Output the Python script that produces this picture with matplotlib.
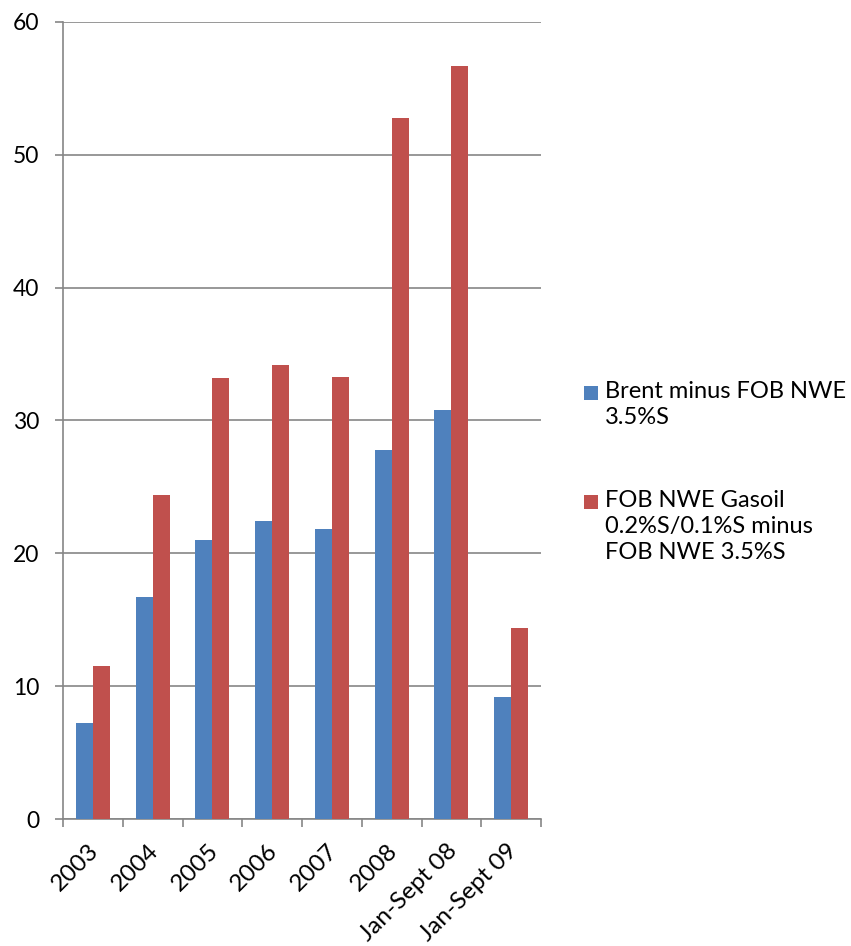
import matplotlib
matplotlib.use("Agg")
import matplotlib.pyplot as plt
import matplotlib.transforms as mtransforms
import numpy as np
from matplotlib.patches import Rectangle

categories = ["2003", "2004", "2005", "2006", "2007", "2008", "Jan-Sept 08", "Jan-Sept 09"]
brent = [7.2, 16.7, 21.0, 22.4, 21.8, 27.8, 30.8, 9.2]
gasoil = [11.5, 24.4, 33.2, 34.2, 33.3, 52.8, 56.7, 14.4]
series_names = ["Brent minus FOB NWE\n3.5%S", "FOB NWE Gasoil\n0.2%S/0.1%S minus\nFOB NWE 3.5%S"]
yticks = [0, 10, 20, 30, 40, 50, 60]

blue = "#4F81BD"
red = "#C0504D"
grey = "#868686"

plt.rcParams['font.family'] = ['Lato', 'DejaVu Sans']

W, H = 851, 946
fig = plt.figure(figsize=(W/100, H/100), dpi=100)
ax = fig.add_axes([63/W, 1 - 819/H, (541-63)/W, (819-22)/H])

x = np.arange(len(categories))
w = 1/3.5
ax.bar(x - w/2, brent, width=w, color=blue, label=series_names[0], zorder=3)
ax.bar(x + w/2, gasoil, width=w, color=red, label=series_names[1], zorder=3)

ax.set_xlim(-0.5, len(categories) - 0.5)
ax.set_ylim(0, 60)
ax.set_yticks(yticks)
ax.set_yticklabels([str(v) for v in yticks], fontsize=16.5)
ax.yaxis.grid(True, color=grey, linewidth=1.2, zorder=0)
ax.set_axisbelow(True)

ax.set_xticks(np.arange(-0.5, len(categories), 1.0))
ax.set_xticklabels([])
ax.set_xticks(x, minor=True)
ax.set_xticklabels(categories, minor=True, rotation=45, ha="right", va="top",
                   rotation_mode="anchor", fontsize=17.5)
ax.tick_params(axis="x", which="minor", length=0, pad=13)
ax.tick_params(axis="x", which="major", length=6, color=grey, width=1.2, direction="out")
ax.tick_params(axis="y", length=6, color=grey, width=1.2, direction="out", pad=11)
offset = mtransforms.ScaledTranslation(-5/100, -3/100, fig.dpi_scale_trans)
for lab in ax.get_xticklabels(minor=True):
    lab.set_transform(lab.get_transform() + offset)

for s in ["top", "right"]:
    ax.spines[s].set_visible(False)
for s in ["left", "bottom"]:
    ax.spines[s].set_color(grey)
    ax.spines[s].set_linewidth(1.2)

# legend drawn manually: square aligned with first text line
legend_items = [(blue, series_names[0], 386), (red, series_names[1], 495)]
for color, label, ytop in legend_items:
    fig.patches.append(Rectangle((584/W, 1 - (ytop + 14)/H), 14/W, 14/H,
                                 transform=fig.transFigure, facecolor=color,
                                 edgecolor="none"))
    fig.text(605/W, 1 - (ytop - 5)/H, label, fontsize=17, ha="left", va="top",
             linespacing=1.3)

fig.savefig("out.png", dpi=100, facecolor="white")
